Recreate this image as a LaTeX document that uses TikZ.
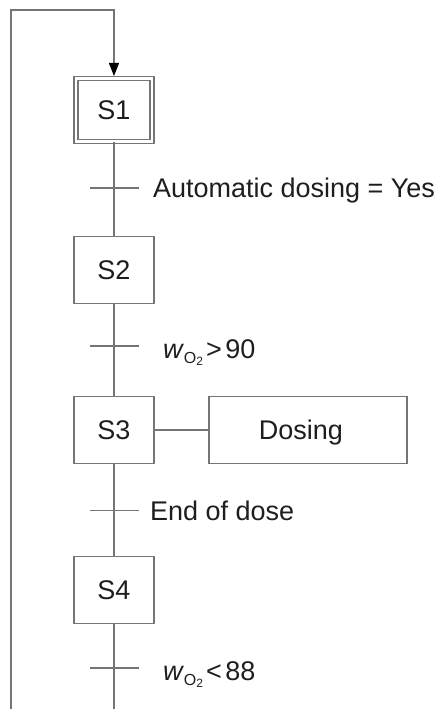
\documentclass[tikz,border=0pt]{standalone}
\usepackage{fontspec}
\setmainfont{Liberation Sans}
\usetikzlibrary{
  arrows.meta,
  positioning
}
\definecolor{ink}{HTML}{1E1E1E}
\definecolor{wire}{HTML}{757575}
\newcommand{\wox}{\textit{w}\raisebox{-5pt}{\fontsize{16}{17}\selectfont O\raisebox{-2pt}{\fontsize{12}{13}\selectfont 2}}}
\tikzset{
  link/.style={
    draw=wire,
    line width=1.1pt
  },
  flow/.style={
    link,
    -{Triangle[length=13pt, width=10pt, color=black]},
    shorten >=2.5pt
  },
  stepbox/.style={
    draw=wire,
    line width=1.1pt,
    fill=white,
    minimum width=80pt,
    minimum height=67pt,
    inner sep=0pt,
    outer sep=0pt,
    text=ink,
    text height=19.3pt,
    text depth=0pt,
    font=\fontsize{27}{32}\selectfont
  },
  initstep/.style={
    stepbox,
    double=white,
    double distance=2.9pt,
    minimum width=76pt,
    minimum height=63pt
  },
  action/.style={
    stepbox,
    minimum width=198pt
  },
  trans/.style={
    minimum width=49pt,
    minimum height=0pt,
    inner sep=0pt,
    outer sep=0pt
  },
  cond/.style={
    inner sep=0pt,
    outer sep=0pt,
    text=ink,
    text height=19.3pt,
    text depth=0pt,
    font=\fontsize{27}{32}\selectfont
  }
}

\begin{document}
\begin{tikzpicture}[x=1pt, y=-1pt]
  \useasboundingbox (0,0) rectangle (439,709);

  % steps and transitions
  \node[initstep] (s1) at (114,110) {S1};
  \node[trans] (t1) at (114,188) {};
  \node[stepbox] (s2) at (114,270) {S2};
  \node[trans] (t2) at (114,346) {};
  \node[stepbox] (s3) at (114,430) {S3};
  \node[trans] (t3) at (114,510.5) {};
  \node[stepbox] (s4) at (114,590) {S4};
  \node[trans] (t4) at (114,668) {};
  \coordinate (bot) at (114,709);

  % action of S3
  \node[action, right=55pt of s3] (dosing) {\hspace*{-14pt}Dosing};

  % conditions
  \node[cond, right=14.5pt of t1] (c1) {Automatic dosing = Yes};
  \node[cond, right=24.5pt of t2, yshift=-3pt] (c2) {\wox\hspace{3pt}>\hspace{3.5pt}90};
  \node[cond, right=11.5pt of t3] (c3) {End of dose};
  \node[cond, right=24.5pt of t4, yshift=-3pt] (c4) {\wox\hspace{3pt}<\hspace{3.5pt}88};

  % loop back
  \coordinate (loopbl) at (11,709);
  \coordinate (looptr) at (114,10);

  \draw[link] (s1) -- (t1) -- (s2) -- (t2) -- (s3) -- (t3) -- (s4) -- (t4) -- (bot);
  \foreach \t in {t1,t2,t3,t4}
    \draw[link] (\t.west) -- (\t.east);
  \draw[link] (s3) -- (dosing);
  \draw[flow] (loopbl) |- (looptr) -- (s1);
\end{tikzpicture}
\end{document}
